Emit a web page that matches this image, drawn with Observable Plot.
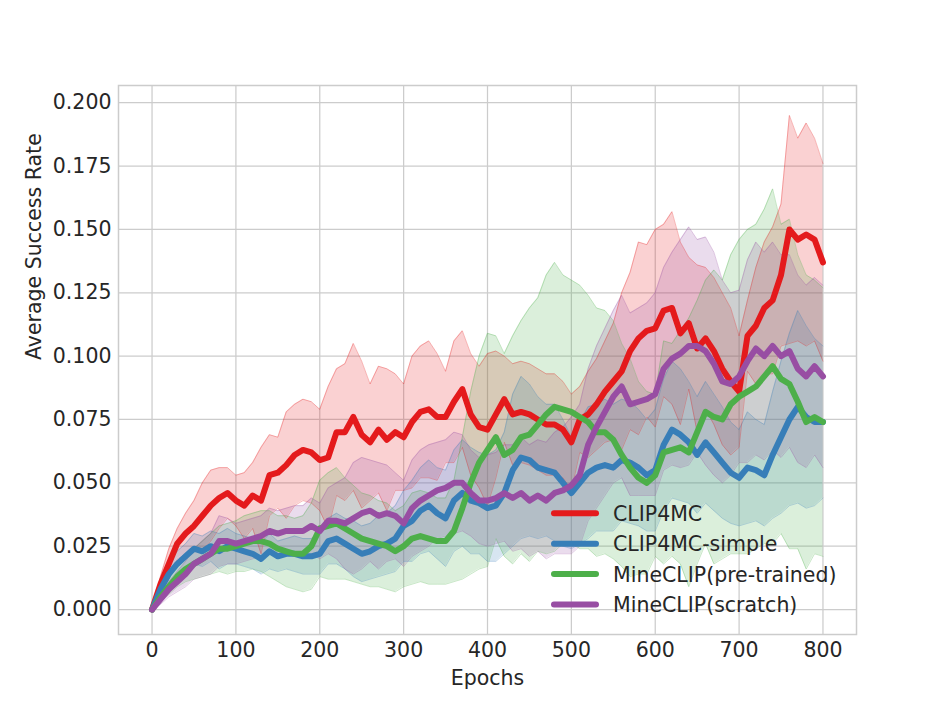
<!DOCTYPE html>
<html>
<head>
<meta charset="utf-8">
<script src="https://cdn.jsdelivr.net/npm/d3@7"></script>
<script src="https://cdn.jsdelivr.net/npm/@observablehq/plot@0.6"></script>
<style>
  html, body { margin: 0; padding: 0; background: white; }
  #chart { width: 951px; height: 713px; }
</style>
</head>
<body>
<div id="chart"></div>
<script>
const seriesNames = ["CLIP4MC", "CLIP4MC-simple", "MineCLIP(pre-trained)", "MineCLIP(scratch)"];
const seriesColors = ["#e41a1c", "#377eb8", "#4daf4a", "#984ea3"];
const xTicks = [0, 100, 200, 300, 400, 500, 600, 700, 800];
const yTicks = [0, 0.025, 0.05, 0.075, 0.1, 0.125, 0.15, 0.175, 0.2];

const epochs = [
  0, 10, 20, 30, 40, 50, 60, 70, 80, 90,
  100, 110, 120, 130, 140, 150, 160, 170, 180, 190,
  200, 210, 220, 230, 240, 250, 260, 270, 280, 290,
  300, 310, 320, 330, 340, 350, 360, 370, 380, 390,
  400, 410, 420, 430, 440, 450, 460, 470, 480, 490,
  500, 510, 520, 530, 540, 550, 560, 570, 580, 590,
  600, 610, 620, 630, 640, 650, 660, 670, 680, 690,
  700, 710, 720, 730, 740, 750, 760, 770, 780, 790,
  800];

const clip4mcMean = [
  0, .010, .018, .026, .030, .033, .037, .041, .044, .046,
  .043, .041, .045, .043, .053, .054, .057, .061, .063, .062,
  .059, .060, .070, .070, .076, .069, .066, .071, .067, .070,
  .068, .074, .078, .079, .076, .076, .082, .087, .077, .072,
  .071, .077, .083, .077, .078, .077, .075, .073, .073, .071,
  .066, .075, .077, .081, .086, .090, .094, .102, .107, .110,
  .111, .118, .119, .109, .113, .103, .107, .102, .095, .090,
  .086, .108, .112, .119, .122, .132, .150, .146, .148, .146,
  .137];
const clip4mcSpread = [
  0, .003, .006, .006, .008, .010, .013, .014, .012, .010,
  .010, .013, .013, .021, .016, .014, .021, .020, .020, .020,
  .020, .028, .025, .027, .029, .029, .023, .025, .028, .023,
  .021, .026, .026, .027, .025, .018, .024, .023, .024, .024,
  .030, .025, .017, .020, .020, .020, .020, .020, .020, .019,
  .019, .013, .017, .018, .020, .023, .031, .031, .038, .034,
  .039, .034, .038, .036, .026, .033, .028, .029, .030, .029,
  .022, .014, .023, .026, .029, .028, .045, .040, .044, .040,
  .039];

const simpleMean = [
  0, .008, .014, .018, .021, .024, .023, .025, .023, .025,
  .024, .023, .022, .020, .023, .021, .022, .022, .021, .021,
  .022, .027, .028, .026, .024, .022, .023, .025, .026, .028,
  .033, .035, .039, .041, .038, .036, .043, .046, .043, .042,
  .040, .041, .046, .055, .060, .059, .056, .055, .054, .050,
  .046, .050, .054, .056, .057, .056, .059, .058, .056, .053,
  .055, .065, .071, .069, .066, .061, .066, .062, .058, .054,
  .052, .056, .055, .053, .061, .068, .075, .080, .076, .074,
  .074];
const simpleSpread = [
  0, .002, .004, .005, .005, .006, .006, .006, .007, .007,
  .006, .006, .006, .006, .007, .006, .006, .007, .007, .007,
  .008, .009, .010, .010, .011, .011, .011, .012, .012, .013,
  .014, .016, .017, .018, .018, .019, .020, .021, .021, .020,
  .021, .022, .024, .030, .032, .030, .028, .026, .027, .025,
  .022, .024, .026, .025, .026, .025, .024, .024, .023, .022,
  .024, .026, .027, .026, .024, .023, .024, .023, .022, .020,
  .019, .022, .020, .020, .025, .030, .034, .038, .036, .033,
  .030];

const pretrainedMean = [
  0, .005, .009, .013, .016, .018, .020, .022, .024, .024,
  .025, .026, .027, .027, .026, .024, .023, .022, .022, .025,
  .032, .033, .034, .032, .030, .028, .027, .026, .025, .023,
  .025, .028, .029, .028, .027, .027, .031, .040, .050, .058,
  .063, .068, .061, .063, .068, .069, .073, .077, .080, .079,
  .078, .076, .074, .070, .070, .067, .061, .056, .052, .050,
  .053, .062, .063, .064, .062, .070, .078, .076, .075, .081,
  .084, .086, .088, .092, .096, .091, .089, .082, .074, .076,
  .074];
const pretrainedSpread = [
  0, .002, .003, .004, .005, .006, .007, .008, .009, .010,
  .010, .011, .011, .012, .013, .013, .014, .014, .015, .017,
  .019, .021, .022, .020, .019, .018, .018, .017, .017, .016,
  .016, .018, .018, .018, .017, .017, .020, .028, .036, .042,
  .046, .040, .040, .045, .046, .050, .050, .055, .057, .053,
  .052, .052, .050, .049, .048, .047, .044, .043, .038, .036,
  .032, .044, .042, .046, .053, .052, .052, .058, .055, .059,
  .062, .064, .064, .066, .070, .061, .065, .058, .058, .054,
  .053];

const scratchMean = [
  0, .004, .008, .011, .014, .018, .020, .022, .027, .027,
  .026, .027, .028, .029, .031, .030, .031, .031, .031, .033,
  .031, .035, .035, .034, .036, .038, .039, .037, .038, .037,
  .034, .040, .043, .045, .047, .048, .050, .050, .046, .043,
  .043, .044, .046, .044, .046, .043, .045, .043, .046, .047,
  .049, .053, .065, .072, .078, .084, .088, .081, .082, .083,
  .085, .095, .099, .101, .104, .104, .102, .097, .090, .089,
  .092, .098, .103, .100, .104, .100, .102, .095, .092, .096,
  .092];
const scratchSpread = [
  0, .002, .003, .004, .005, .006, .007, .008, .010, .009,
  .008, .008, .008, .008, .009, .009, .009, .010, .010, .011,
  .011, .013, .015, .018, .022, .022, .020, .021, .019, .017,
  .017, .019, .020, .020, .019, .019, .020, .019, .017, .017,
  .018, .018, .019, .021, .022, .022, .022, .023, .024, .025,
  .027, .028, .030, .032, .033, .034, .036, .036, .037, .038,
  .040, .040, .042, .045, .047, .042, .045, .044, .040, .036,
  .034, .040, .042, .041, .041, .040, .038, .037, .036, .035,
  .036];

const means = [clip4mcMean, simpleMean, pretrainedMean, scratchMean];
const spreads = [clip4mcSpread, simpleSpread, pretrainedSpread, scratchSpread];

const rows = [];
seriesNames.forEach((name, i) => {
  epochs.forEach((e, j) => {
    rows.push({series: name, epoch: e, mean: means[i][j],
               lo: means[i][j] - spreads[i][j], hi: means[i][j] + spreads[i][j]});
  });
});

const gridColor = "#cccccc";
const fontPx = 20.5;

const chart = Plot.plot({
  width: 951,
  height: 713,
  marginTop: 85,
  marginRight: 95,
  marginBottom: 79,
  marginLeft: 118,
  style: {fontFamily: "DejaVu Sans", fontSize: fontPx + "px", color: "#262626", background: "white", overflow: "visible"},
  x: {domain: [-40, 840], ticks: xTicks, tickSize: 0, tickPadding: 8, label: null},
  y: {domain: [-0.00985, 0.2068], ticks: yTicks, tickSize: 0, tickPadding: 7, tickFormat: d3.format(".3f"), label: null},
  color: {domain: seriesNames, range: seriesColors},
  marks: [
    Plot.ruleX(xTicks, {stroke: gridColor, strokeWidth: 1.25}),
    Plot.ruleY(yTicks, {stroke: gridColor, strokeWidth: 1.25}),
    Plot.areaY(rows, {x: "epoch", y1: "lo", y2: "hi", z: "series", fill: "series", fillOpacity: 0.2}),
    Plot.line(rows, {x: "epoch", y: "hi", z: "series", stroke: "series", strokeOpacity: 0.3, strokeWidth: 1}),
    Plot.line(rows, {x: "epoch", y: "lo", z: "series", stroke: "series", strokeOpacity: 0.3, strokeWidth: 1}),
    Plot.line(rows, {x: "epoch", y: "mean", z: "series", stroke: "series", strokeWidth: 6,
                     strokeLinejoin: "round", strokeLinecap: "round"}),
    Plot.frame({stroke: gridColor, strokeWidth: 1.5}),
    Plot.text(["Epochs"], {frameAnchor: "bottom", dy: 50, text: d => d, fontSize: fontPx, fill: "#262626"}),
    Plot.text(["Average Success Rate"], {frameAnchor: "left", dx: -84, rotate: -90, text: d => d, fontSize: fontPx, fill: "#262626"})
  ]
});

document.getElementById("chart").appendChild(chart);

// Legend (inside plot, lower right), no frame
const svg = d3.select(chart.tagName.toLowerCase() === "svg" ? chart : chart.querySelector("svg"));
const leg = svg.append("g")
  .attr("font-family", "DejaVu Sans").attr("font-size", fontPx)
  .attr("fill", "#262626").attr("text-anchor", "start");
seriesNames.forEach((name, i) => {
  const cy = 513.3 + i * 30.4;
  leg.append("line")
    .attr("x1", 554).attr("x2", 596).attr("y1", cy).attr("y2", cy)
    .attr("stroke", seriesColors[i]).attr("stroke-width", 6).attr("stroke-linecap", "round");
  leg.append("text").attr("x", 613).attr("y", cy + 7.4)
    .attr("text-anchor", "start").text(name);
});
</script>
</body>
</html>
